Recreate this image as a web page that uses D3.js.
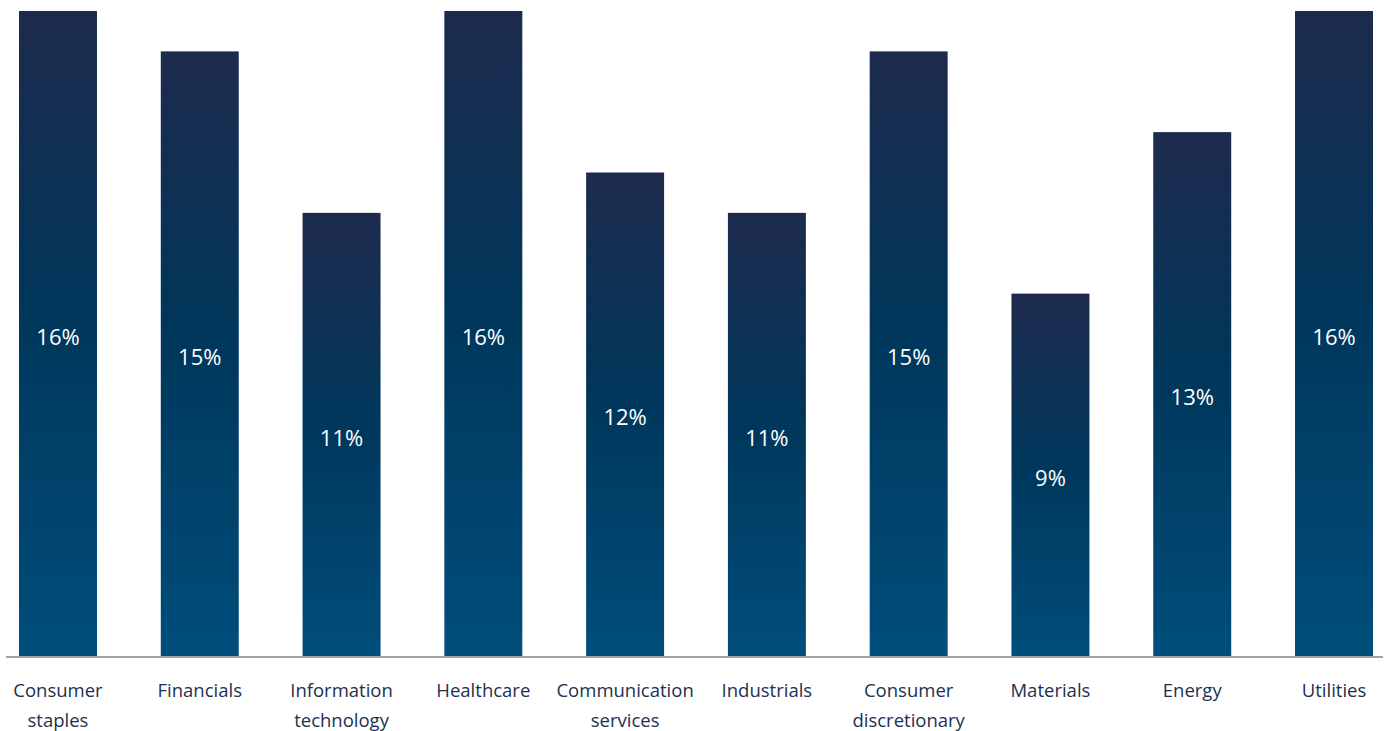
<!DOCTYPE html>
<html>
<head>
<meta charset="utf-8">
<script src="https://cdn.jsdelivr.net/npm/d3@7"></script>
<style>
  body { margin: 0; background: #fff; }
  text { font-family: "Open Sans", Lato, sans-serif; }
</style>
</head>
<body>
<div id="chart"></div>
<script>
var width = 1391;
var height = 731;

// data
var categories = [["Consumer", "staples"], ["Financials"], ["Information", "technology"], ["Healthcare"],
  ["Communication", "services"], ["Industrials"], ["Consumer", "discretionary"], ["Materials"], ["Energy"], ["Utilities"]];
var values = [16, 15, 11, 16, 12, 11, 15, 9, 13, 16];

//colors
var barTop = '#1d2a4d';
var barMid = '#00365a';
var barBottom = '#004e7c';
var axisColor = '#a3a3a3';
var labelColor = '#1d3050';

var baseline = 657;

var svg = d3.select("#chart")
  .append("svg")
  .attr("width", width)
  .attr("height", height);

var grad = svg.append("defs").append("linearGradient")
  .attr("id", "barGrad")
  .attr("x1", 0).attr("y1", 0).attr("x2", 0).attr("y2", 1);
grad.append("stop").attr("offset", "0%").attr("stop-color", barTop);
grad.append("stop").attr("offset", "45%").attr("stop-color", barMid);
grad.append("stop").attr("offset", "100%").attr("stop-color", barBottom);

var x = d3.scaleBand()
  .domain(d3.range(values.length))
  .range([-12.9, 1404.9])
  .paddingInner(0.45)
  .paddingOuter(0.225);

var y = d3.scaleLinear()
  .domain([0, 16])
  .range([baseline, 11]);

var bars = svg.selectAll(".bar")
  .data(values)
  .enter().append("g")
  .attr("class", "bar");

bars.append("rect")
  .attr("x", function(d, i) { return x(i); })
  .attr("y", function(d) { return y(d); })
  .attr("width", x.bandwidth())
  .attr("height", function(d) { return y(0) - y(d) + 1; })
  .style("fill", "url(#barGrad)");

bars.append("text")
  .attr("x", function(d, i) { return x(i) + x.bandwidth() / 2; })
  .attr("y", function(d) { return (y(d) + y(0)) / 2 + 3; })
  .attr("dy", ".35em")
  .attr("text-anchor", "middle")
  .style("fill", "#fff")
  .style("font-size", "22px")
  .text(function(d) { return d + "%"; });

// axis line
svg.append("line")
  .attr("x1", 6).attr("x2", 1383)
  .attr("y1", baseline).attr("y2", baseline)
  .attr("stroke", axisColor)
  .attr("stroke-width", 2);

// category labels
var labels = svg.selectAll(".cat")
  .data(categories)
  .enter().append("text")
  .attr("class", "cat")
  .attr("x", function(d, i) { return x(i) + x.bandwidth() / 2; })
  .attr("y", 697)
  .attr("text-anchor", "middle")
  .style("fill", labelColor)
  .style("font-size", "18.5px");

labels.selectAll("tspan")
  .data(function(d) { return d; })
  .enter().append("tspan")
  .attr("x", function() { return d3.select(this.parentNode).attr("x"); })
  .attr("dy", function(d, i) { return i == 0 ? 0 : 30; })
  .text(function(d) { return d; });
</script>
</body>
</html>
